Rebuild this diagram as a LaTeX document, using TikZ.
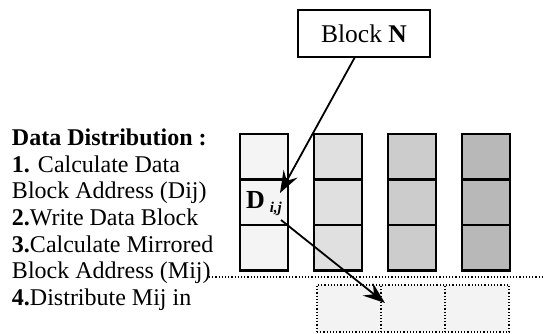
\documentclass[tikz,border=0pt]{standalone}
\usepackage{fontspec}
\setmainfont{Liberation Serif}
\usetikzlibrary{arrows.meta,positioning}

\definecolor{shadeA}{HTML}{F4F4F4}
\definecolor{shadeB}{HTML}{E0E0E0}
\definecolor{shadeC}{HTML}{CCCCCC}
\definecolor{shadeD}{HTML}{B8B8B8}
\definecolor{slotfill}{HTML}{F3F3F3}

\begin{document}
\begin{tikzpicture}[
    x=1pt,
    y=-1pt,
    every node/.style={inner sep=0pt, outer sep=0pt},
    cell/.style={draw, line width=2.3pt, minimum width=48pt, minimum height=45.5pt},
    slot/.style={draw, dotted, line width=1.2pt, fill=slotfill, minimum width=64pt, minimum height=47pt},
    pointer/.style={-{Stealth[length=22pt,width=16pt,inset=8pt]}, line width=1.8pt},
    step line/.style={anchor=base west, font=\fontsize{24}{24}\selectfont}
]
\useasboundingbox (0,0) rectangle (544,334);


% Block label
\node[draw, line width=1.8pt, minimum width=132pt, minimum height=47pt,
      font=\fontsize{25.5}{25.5}\selectfont] (blk) at (364,33.5) {Block \textbf{N}};


% Steps
\node[step line] (l1) at (12,146) {\textbf{Data Distribution :}};
\node[step line] (l2) at (12,172.5) {\textbf{1.} Calculate Data};
\node[step line] (l3) at (12,199) {Block Address (Dij)};
\node[step line] (l4) at (12,225.5) {\textbf{2.}Write Data Block};
\node[step line] (l5) at (12,252) {\textbf{3.}Calculate Mirrored};
\node[step line] (l6) at (12,278.5) {Block Address (Mij)};
\node[step line] (l7) at (12,305) {\textbf{4.}Distribute Mij in};


% Columns
\node[cell, fill=shadeA] (c1a) at (264,156.75) {};
\node[cell, fill=shadeA] (c1b) at (264,202.25) {};
\node[cell, fill=shadeA] (c1c) at (264,247.75) {};

\node[cell, fill=shadeB] (c2a) at (338,156.75) {};
\node[cell, fill=shadeB] (c2b) at (338,202.25) {};
\node[cell, fill=shadeB] (c2c) at (338,247.75) {};

\node[cell, fill=shadeC] (c3a) at (412,156.75) {};
\node[cell, fill=shadeC] (c3b) at (412,202.25) {};
\node[cell, fill=shadeC] (c3c) at (412,247.75) {};

\node[cell, fill=shadeD] (c4a) at (486,156.75) {};
\node[cell, fill=shadeD] (c4b) at (486,202.25) {};
\node[cell, fill=shadeD] (c4c) at (486,247.75) {};


% Data block
\node[anchor=base west, font=\fontsize{26}{26}\selectfont] (dij) at (246,209)
    {\textbf{D}\hspace{5pt}\raisebox{-3pt}{\fontsize{15}{15}\selectfont\bfseries\itshape i,j}};


% Mirror slots
\node[slot] (s1) at (349,308.5) {};
\node[slot] (s2) at (413,308.5) {};
\node[slot] (s3) at (477,308.5) {};


% Separator
\coordinate (sepL) at (209,277);
\coordinate (sepR) at (544,277);
\draw[dotted, line width=1.2pt] (sepL) -- (sepR);


% Pointers
\coordinate (hit) at (280,193);
\coordinate (dout) at (281,220);
\coordinate (mhit) at (385,303);

\draw[pointer] ([xshift=-9pt]blk.south) -- (hit);
\draw[pointer] (dout) -- (mhit);


\end{tikzpicture}
\end{document}
